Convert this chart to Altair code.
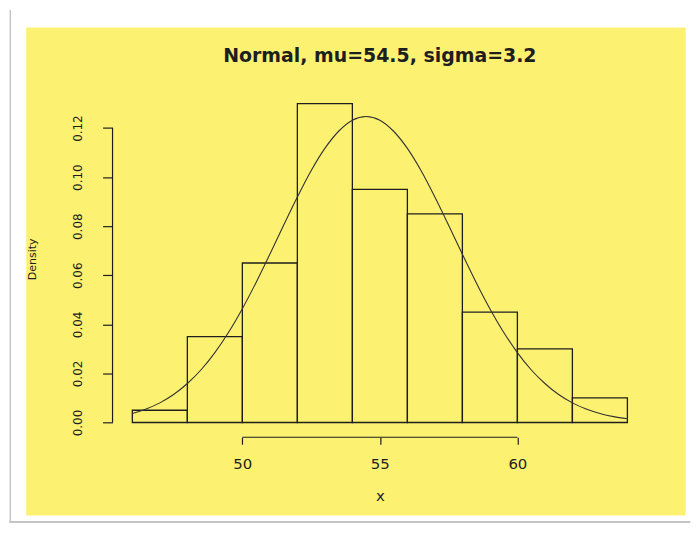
import altair as alt
import pandas as pd

# ---- data ----
bin_left = [46, 48, 50, 52, 54, 56, 58, 60, 62]
bin_right = [48, 50, 52, 54, 56, 58, 60, 62, 64]
density = [0.005, 0.035, 0.065, 0.13, 0.095, 0.085, 0.045, 0.03, 0.01]

curve_x = [46, 46.5, 47, 47.5, 48, 48.5, 49, 49.5, 50, 50.5, 51, 51.5, 52, 52.5,
           53, 53.5, 54, 54.5, 55, 55.5, 56, 56.5, 57, 57.5, 58, 58.5, 59, 59.5,
           60, 60.5, 61, 61.5, 62, 62.5, 63, 63.5, 64]
curve_y = [0.0037, 0.0055, 0.0080, 0.0114, 0.0159, 0.0215, 0.0285, 0.0368, 0.0464,
           0.0571, 0.0686, 0.0804, 0.0919, 0.1026, 0.1117, 0.1187, 0.1232, 0.1247,
           0.1232, 0.1187, 0.1117, 0.1026, 0.0919, 0.0804, 0.0686, 0.0571, 0.0464,
           0.0368, 0.0285, 0.0215, 0.0159, 0.0114, 0.0080, 0.0055, 0.0037, 0.0024,
           0.0015]

x_ticks = [50, 55, 60]
y_ticks = [0.00, 0.02, 0.04, 0.06, 0.08, 0.10, 0.12]

title_text = "Normal, mu=54.5, sigma=3.2"
x_title = "x"
y_title = "Density"

# ---- layout constants ----
W = 537
H = 346
X_OFF = 2
YELLOW = "#FDF172"
INK = "#1e1e1e"

hist = pd.DataFrame({"left": bin_left, "right": bin_right, "density": density})
curve = pd.DataFrame({"x": curve_x, "y": curve_y})
xdom = pd.DataFrame({"a": [x_ticks[0]], "b": [x_ticks[-1]]})
ydom = pd.DataFrame({"a": [y_ticks[0]], "b": [y_ticks[-1]]})
one = alt.Data(values=[{"k": 1}])

xscale = alt.Scale(domain=[45.28, 64.72], nice=False, zero=False)
yscale = alt.Scale(domain=[-0.0052, 0.1352], nice=False, zero=False)

xaxis = alt.Axis(
    values=x_ticks, title=x_title, domain=False, grid=False, offset=X_OFF,
    zindex=2,
    tickSize=7, tickWidth=1.2, tickColor=INK,
    labelFont="DejaVu Sans", labelFontSize=15, labelColor=INK, labelPadding=12,
    labelFlush=False, labelOverlap=False,
    titleFont="DejaVu Sans", titleFontSize=15, titleFontWeight="normal",
    titleColor=INK, titleX=W / 2, titleY=63.5, titleBaseline="alphabetic",
    titleAlign="center",
)
yaxis = alt.Axis(
    values=y_ticks, format=".2f", title=y_title, domain=False, grid=False,
    zindex=2,
    tickSize=10, tickWidth=1.2, tickColor=INK,
    labelFont="DejaVu Sans", labelFontSize=12, labelColor=INK,
    labelAngle=270, labelAlign="center", labelBaseline="alphabetic",
    labelPadding=21, labelFlush=False, labelOverlap=False,
    titleFont="DejaVu Sans", titleFontSize=11, titleFontWeight="normal",
    titleColor=INK, titleAngle=270, titleX=-77.4, titleY=168.8,
    titleBaseline="alphabetic", titleAlign="center",
)

# background frame (white page with grey edge, yellow panel)
outer = alt.Chart(one).mark_rect(fill="white").encode(
    x=alt.value(-103.7), x2=alt.value(W + 43.3),
    y=alt.value(-81.2), y2=alt.value(H + 88),
)
edge_left = alt.Chart(one).mark_rule(color="#c4c4c4", strokeWidth=1.5).encode(
    x=alt.value(-102.7), y=alt.value(-81.2), y2=alt.value(H + 87),
)
edge_bottom = alt.Chart(one).mark_rule(color="#c4c4c4", strokeWidth=2).encode(
    x=alt.value(-103.7), x2=alt.value(W + 43.3), y=alt.value(H + 87),
)
panel = alt.Chart(one).mark_rect(fill=YELLOW).encode(
    x=alt.value(-86.7), x2=alt.value(W + 38.6),
    y=alt.value(-63.5), y2=alt.value(H + 80.7),
)

bars = alt.Chart(hist).mark_rect(
    fill=YELLOW, fillOpacity=0, stroke=INK, strokeWidth=1.3
).encode(
    x=alt.X("left:Q", scale=xscale, axis=xaxis),
    x2="right:Q",
    y=alt.Y("density:Q", scale=yscale, axis=yaxis),
    y2=alt.datum(0),
)

line = alt.Chart(curve).mark_line(
    color="#333333", strokeWidth=1.1, interpolate="monotone"
).encode(
    x=alt.X("x:Q", scale=xscale, axis=xaxis),
    y=alt.Y("y:Q", scale=yscale, axis=yaxis),
)

xrule = alt.Chart(xdom).mark_rule(color=INK, strokeWidth=1.2).encode(
    x=alt.X("a:Q", scale=xscale, axis=xaxis),
    x2="b:Q",
    y=alt.value(H + X_OFF),
)
yrule = alt.Chart(ydom).mark_rule(color=INK, strokeWidth=1.2).encode(
    y=alt.Y("a:Q", scale=yscale, axis=yaxis),
    y2="b:Q",
    x=alt.value(0),
)

title = alt.Chart(one).mark_text(
    text=title_text, font="DejaVu Sans", fontSize=19, fontWeight="bold",
    color=INK, align="center", baseline="alphabetic",
).encode(x=alt.value(W / 2), y=alt.value(-29.2))

chart = alt.layer(
    outer, edge_left, edge_bottom, panel, bars, line, xrule, yrule, title
).properties(
    width=W, height=H, padding=0, background="white"
).configure_view(strokeWidth=0)

chart.save("out.html", embed_options={"renderer": "svg", "actions": False})
